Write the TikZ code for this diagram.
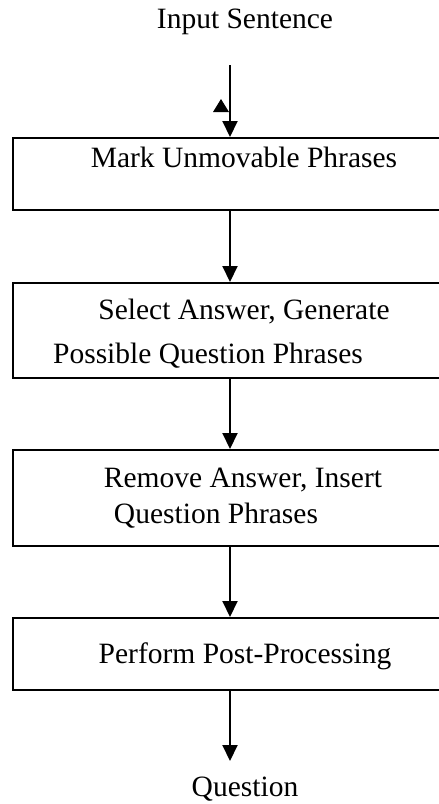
\documentclass[tikz,border=0pt]{standalone}
\usepackage{fontspec}
\setmainfont{Liberation Serif}
\usetikzlibrary{arrows.meta}
\begin{document}
\begin{tikzpicture}[x=1pt,y=-1pt,
  stage/.style={draw,line width=2pt,minimum width=450pt,inner sep=0pt,anchor=north west},
  caption/.style={font=\fontsize{29.5}{34}\selectfont,anchor=base,inner sep=0pt},
  flow/.style={line width=2pt,-{Triangle[length=16pt,width=15pt]}}]
\clip (0,0) rectangle (439,804);

% processing stages
\node[stage,minimum height=72pt] (s1) at (12,137) {};
\node[stage,minimum height=95pt] (s2) at (12,282) {};
\node[stage,minimum height=96pt] (s3) at (12,449) {};
\node[stage,minimum height=72pt] (s4) at (12,617) {};

% texts
\node[caption] (tin) at (245,28) {Input Sentence};
\node[caption] (t1) at (244,167) {Mark Unmovable Phrases};
\node[caption] (t2a) at (244,319) {Select Answer, Generate};
\node[caption] (t2b) at (208,363) {Possible Question Phrases};
\node[caption] (t3a) at (243,487) {Remove Answer, Insert};
\node[caption] (t3b) at (216,523) {Question Phrases};
\node[caption] (t4) at (245,663) {Perform Post-Processing};
\node[caption] (tout) at (245,796) {Question};

% connectors
\coordinate (start) at (230,65);
\coordinate (finish) at (230,761);
\draw[flow] (start) -- (start |- s1.north);
\draw[flow] (230,0 |- s1.south) -- (230,0 |- s2.north);
\draw[flow] (230,0 |- s2.south) -- (230,0 |- s3.north);
\draw[flow] (230,0 |- s3.south) -- (230,0 |- s4.north);
\draw[flow] (230,0 |- s4.south) -- (finish);

% small upward arrowhead beside the input line
\fill (221,99) -- (229,112) -- (213,112) -- cycle;
\end{tikzpicture}
\end{document}
